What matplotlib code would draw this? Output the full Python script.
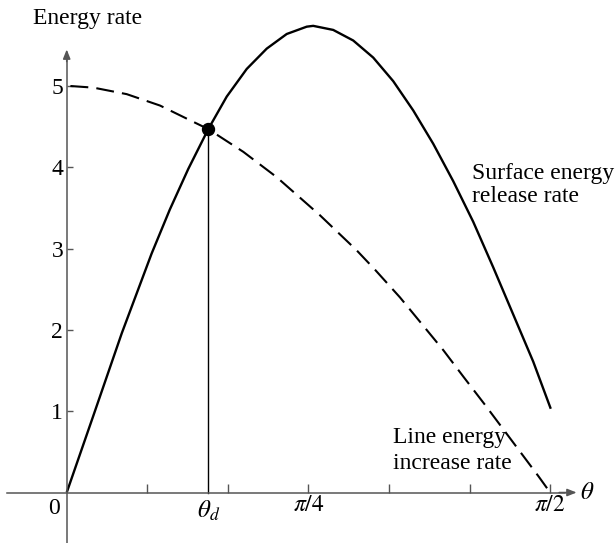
import numpy as np
import matplotlib
matplotlib.use("Agg")
import matplotlib.pyplot as plt

plt.rcParams['font.family'] = ['Liberation Serif', 'DejaVu Serif']
plt.rcParams['mathtext.fontset'] = 'stix'

# Surface energy release rate (solid curve)
theta_surface = [0.000, 0.087, 0.179, 0.276, 0.335, 0.395, 0.460, 0.520, 0.585,
                 0.650, 0.715, 0.780, 0.801, 0.866, 0.931, 0.996, 1.061, 1.126,
                 1.191, 1.256, 1.321, 1.386, 1.451, 1.516, 1.573]
surface_rate = [0.00, 0.95, 1.96, 2.94, 3.48, 3.98, 4.47, 4.87, 5.21,
                5.46, 5.64, 5.73, 5.74, 5.69, 5.56, 5.35, 5.06, 4.70,
                4.29, 3.83, 3.33, 2.77, 2.19, 1.61, 1.03]

# Line energy increase rate (dashed curve)
theta_line = [0.012, 0.087, 0.195, 0.303, 0.411, 0.460, 0.574, 0.682, 0.775,
              0.823, 0.942, 1.002, 1.083, 1.224, 1.290, 1.359, 1.450, 1.533, 1.571]
line_rate = [5.00, 4.98, 4.90, 4.76, 4.56, 4.47, 4.19, 3.88, 3.57,
             3.41, 2.98, 2.74, 2.40, 1.75, 1.42, 1.08, 0.62, 0.20, 0.00]

theta_d = 0.460
rate_d = 4.467

x_ticks = [np.pi / 12, np.pi / 6, np.pi / 4, np.pi / 3, 5 * np.pi / 12, np.pi / 2]
x_tick_labels = ['', '', r'$\pi/4$', '', '', r'$\pi/2$']
y_ticks = [1, 2, 3, 4, 5]
y_tick_labels = ['1', '2', '3', '4', '5']

axis_gray = '#555555'
fs = 17

fig = plt.figure(figsize=(6.16, 5.43), dpi=100)
ax = fig.add_axes([0, 0, 1, 1])
ax.set_xlim(-0.2168, 1.785)
ax.set_ylim(-0.621, 6.058)

for s in ['top', 'right']:
    ax.spines[s].set_visible(False)
ax.spines['left'].set_position(('data', 0))
ax.spines['bottom'].set_position(('data', 0))
ax.spines['left'].set_bounds(-0.621, 5.40)
ax.spines['bottom'].set_bounds(-0.195, 1.62)
for s in ['left', 'bottom']:
    ax.spines[s].set_color(axis_gray)
    ax.spines[s].set_linewidth(1.1)

# arrow heads
ax.annotate('', xy=(1.657, 0), xytext=(1.60, 0),
            arrowprops=dict(arrowstyle='-|>,head_length=0.55,head_width=0.22',
                            color=axis_gray, lw=1.1, shrinkA=0, shrinkB=0),
            annotation_clip=False)
ax.annotate('', xy=(0, 5.45), xytext=(0, 5.30),
            arrowprops=dict(arrowstyle='-|>,head_length=0.55,head_width=0.22',
                            color=axis_gray, lw=1.1, shrinkA=0, shrinkB=0),
            annotation_clip=False)

ax.set_xticks(x_ticks)
ax.set_xticklabels(x_tick_labels)
ax.set_yticks(y_ticks)
ax.set_yticklabels(y_tick_labels)
ax.tick_params(axis='x', direction='in', length=6.5, width=1.0, color=axis_gray,
               labelsize=fs, pad=2)
ax.tick_params(axis='y', direction='in', length=4.5, width=1.0, color=axis_gray,
               labelsize=fs, pad=2.5)

# curves
ax.plot(theta_surface, surface_rate, color='black', lw=1.7,
        solid_capstyle='butt', solid_joinstyle='round')
ax.plot(theta_line, line_rate, color='black', lw=1.5, dashes=(8.6, 3.9))
ax.plot([theta_d, theta_d], [0, rate_d], color='black', lw=1.0)
ax.plot([theta_d], [rate_d], 'o', color='black', markersize=8.6)

# texts
ax.text(-0.1095, 5.763, 'Energy rate', fontsize=fs, ha='left', va='baseline')
ax.text(1.316, 3.856, 'Surface energy', fontsize=fs, ha='left', va='baseline')
ax.text(1.316, 3.577, 'release rate', fontsize=fs, ha='left', va='baseline')
ax.text(1.0595, 0.609, 'Line energy', fontsize=fs, ha='left', va='baseline')
ax.text(1.0595, 0.289, 'increase rate', fontsize=fs, ha='left', va='baseline')
ax.text(1.668, 0.0, r'$\theta$', fontsize=fs + 1, ha='left', va='center')
ax.text(-0.041, -0.07, '0', fontsize=fs, ha='center', va='top')
ax.text(theta_d, -0.07, r'$\theta_d$', fontsize=fs + 1, ha='center', va='top')

fig.savefig('out.png', dpi=100)
